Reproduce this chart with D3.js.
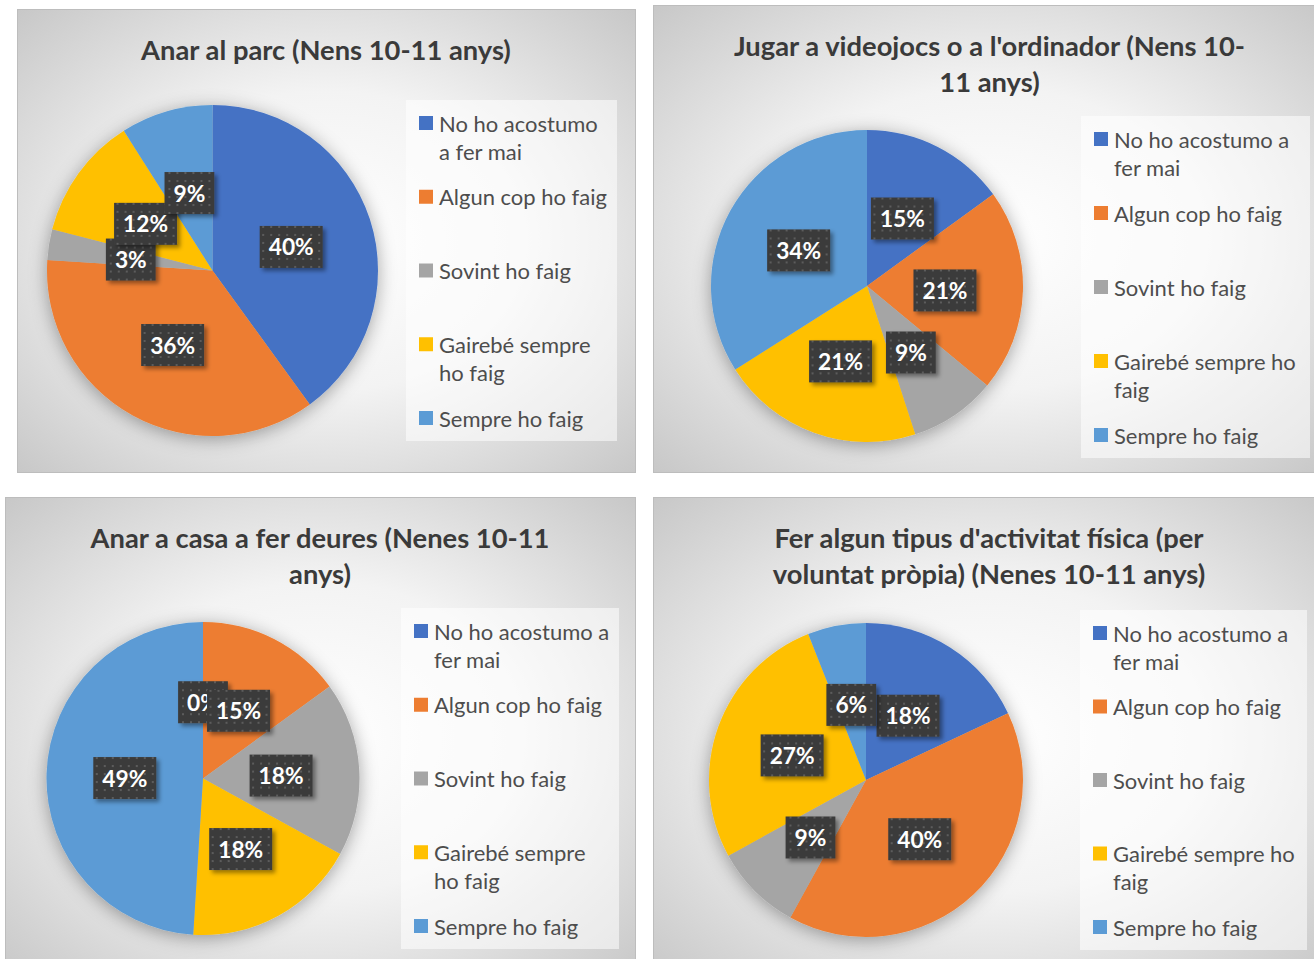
<!DOCTYPE html>
<html><head><meta charset="utf-8">
<script src="https://cdn.jsdelivr.net/npm/d3@7"></script>
<style>body{margin:0;background:#fff;} svg{display:block;}</style>
</head><body><svg id="chart" width="1314" height="959"></svg>
<script>
// ---------- data ----------
const categories = ["No ho acostumo a fer mai", "Algun cop ho faig", "Sovint ho faig", "Gairebé sempre ho faig", "Sempre ho faig"];
const colors = ["#4472C4", "#ED7D31", "#A5A5A5", "#FFC000", "#5B9BD5"];

const titleParc = ["Anar al parc (Nens 10-11 anys)"];
const titleVideojocs = ["Jugar a videojocs o a l'ordinador (Nens 10-", "11 anys)"];
const titleDeures = ["Anar a casa a fer deures (Nenes 10-11", "anys)"];
const titleActivitat = ["Fer algun tipus d'activitat física (per", "voluntat pròpia) (Nenes 10-11 anys)"];

const valuesParc = [40, 36, 3, 12, 9];
const valuesVideojocs = [15, 21, 9, 21, 34];
const valuesDeures = [0, 15, 18, 18, 49];
const valuesActivitat = [18, 40, 9, 27, 6];

const charts = [
  {title: titleParc, values: valuesParc},
  {title: titleVideojocs, values: valuesVideojocs},
  {title: titleDeures, values: valuesDeures},
  {title: titleActivitat, values: valuesActivitat}
];

// ---------- layout ----------
const layout = [
  {x: 17,  y: 9,   w: 618, h: 463, tx: 326,   ty: 49,  cx: 212.5, cy: 270.5, r: 165.5, lg: {x: 406,  y: 100, w: 211, h: 341}},
  {x: 653, y: 5,   w: 673, h: 467, tx: 989.5, ty: 45,  cx: 867,   cy: 286,   r: 156,   lg: {x: 1081, y: 116, w: 229, h: 342}},
  {x: 5,   y: 497, w: 630, h: 480, tx: 320,   ty: 537, cx: 203,   cy: 778.5, r: 156.5, lg: {x: 401,  y: 608, w: 218, h: 341}},
  {x: 653, y: 497, w: 673, h: 480, tx: 989,   ty: 537, cx: 866,   cy: 780,   r: 157,   lg: {x: 1080, y: 610, w: 227, h: 340}}
];

const FONT = "Lato, 'Open Sans', sans-serif";
const svg = d3.select("#chart");
const defs = svg.append("defs");

// background gradient
const grad = defs.append("radialGradient").attr("id", "bg").attr("cx", "50%").attr("cy", "50%").attr("r", "72%");
grad.append("stop").attr("offset", "0%").attr("stop-color", "#ffffff");
grad.append("stop").attr("offset", "45%").attr("stop-color", "#f3f3f3");
grad.append("stop").attr("offset", "100%").attr("stop-color", "#c6c6c6");

// dotted pattern for labels
const pat = defs.append("pattern").attr("id", "dots").attr("patternUnits", "userSpaceOnUse").attr("width", 8).attr("height", 8);
pat.append("rect").attr("width", 8).attr("height", 8).attr("fill", "#3b3b3b");
pat.append("rect").attr("x", 3).attr("y", 3).attr("width", 2).attr("height", 2).attr("fill", "#5c5c5c");

// shadows
const fPie = defs.append("filter").attr("id", "pieShadow").attr("x", "-25%").attr("y", "-25%").attr("width", "150%").attr("height", "150%");
fPie.append("feDropShadow").attr("dx", 0).attr("dy", 3).attr("stdDeviation", 9).attr("flood-color", "#000").attr("flood-opacity", 0.35);
const fLab = defs.append("filter").attr("id", "labShadow").attr("x", "-30%").attr("y", "-30%").attr("width", "160%").attr("height", "160%");
fLab.append("feDropShadow").attr("dx", 3).attr("dy", 3).attr("stdDeviation", 2).attr("flood-color", "#000").attr("flood-opacity", 0.4);

function measure(str, weight, size) {
  const t = svg.append("text").attr("font-family", FONT).attr("font-weight", weight).attr("font-size", size).text(str);
  const w = t.node().getComputedTextLength();
  t.remove();
  return w;
}
const titleSize = 100 * 370 / measure(titleParc[0], "bold", 100);
const legendSize = 100 * 168 / measure(categories[1], "normal", 100);
const labelSize = 100 * 45 / measure("40%", "bold", 100);

const pie = d3.pie().sort(null).value(d => d);

charts.forEach((c, i) => {
  const L = layout[i];
  const g = svg.append("g");
  // panel
  g.append("rect").attr("x", L.x + 0.5).attr("y", L.y + 0.5).attr("width", L.w).attr("height", L.h)
    .attr("fill", "url(#bg)").attr("stroke", "#bdbdbd").attr("stroke-width", 1);

  // title
  g.append("text").attr("x", L.tx).attr("y", L.ty)
    .attr("font-family", FONT).attr("font-weight", "bold").attr("font-size", titleSize)
    .attr("fill", "#3a3a3a").attr("text-anchor", "middle")
    .selectAll("tspan").data(c.title).join("tspan")
    .attr("x", L.tx).attr("y", (d, k) => L.ty + k * 36).attr("dominant-baseline", "central").text(d => d);

  // legend
  const lg = L.lg;
  g.append("rect").attr("x", lg.x).attr("y", lg.y).attr("width", lg.w).attr("height", lg.h)
    .attr("fill", "#ffffff").attr("fill-opacity", 0.55);
  const step = (lg.h - 46) / (categories.length - 1);
  const textX = lg.x + 33;
  const maxW = lg.x + lg.w - textX - 6;
  categories.forEach((cat, k) => {
    const yy = lg.y + 23 + k * step;
    g.append("rect").attr("x", lg.x + 13).attr("y", yy - 7).attr("width", 14).attr("height", 14).attr("fill", colors[k]);
    const words = cat.split(" ");
    const lines = [];
    let cur = "";
    words.forEach(wd => {
      const test = cur ? cur + " " + wd : wd;
      if (cur && measure(test, "normal", legendSize) > maxW) { lines.push(cur); cur = wd; }
      else cur = test;
    });
    lines.push(cur);
    g.append("text").attr("font-family", FONT).attr("font-size", legendSize).attr("fill", "#4d4d4d")
      .selectAll("tspan").data(lines).join("tspan")
      .attr("x", textX).attr("y", (d, m) => yy + m * 28).attr("dominant-baseline", "central").text(d => d);
  });

  // pie
  const arcs = pie(c.values);
  const arc = d3.arc().innerRadius(0).outerRadius(L.r);
  const pg = g.append("g").attr("transform", `translate(${L.cx},${L.cy})`);
  pg.append("g").attr("filter", "url(#pieShadow)")
    .selectAll("path").data(arcs).join("path")
    .attr("d", arc).attr("fill", (d, k) => colors[k]);

  // labels
  const lab = pg.selectAll("g.lab").data(arcs).join("g").attr("class", "lab")
    .attr("transform", d => { const p = arc.centroid(d); return `translate(${p[0]},${p[1] + 2})`; });
  lab.each(function(d) {
    const s = d3.select(this);
    const txt = d.data + "%";
    const tw = measure(txt, "bold", labelSize);
    const bw = tw + 18, bh = 42;
    s.append("rect").attr("x", -bw / 2).attr("y", -bh / 2).attr("width", bw).attr("height", bh)
      .attr("fill", "url(#dots)").attr("filter", "url(#labShadow)");
    s.append("text").attr("font-family", FONT).attr("font-weight", "bold").attr("font-size", labelSize)
      .attr("fill", "#ffffff").attr("text-anchor", "middle").attr("dominant-baseline", "central").text(txt);
  });
});
</script>
</body></html>
